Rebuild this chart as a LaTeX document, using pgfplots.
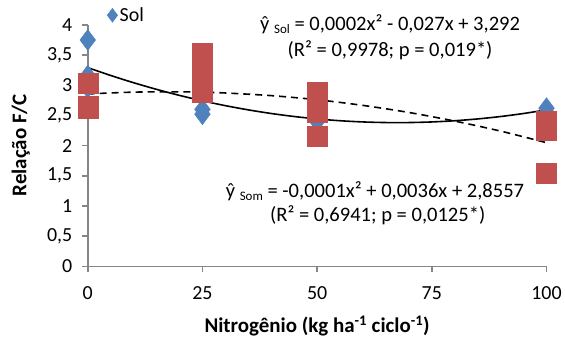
\documentclass[border=0pt]{standalone}
\usepackage{pgfplots}
\pgfplotsset{compat=1.18}
\usepackage{fontspec}
\setmainfont{Carlito}
\definecolor{solblue}{RGB}{79,129,189}
\definecolor{somred}{RGB}{192,80,77}
\definecolor{axgray}{RGB}{134,134,134}
\newcommand{\eqfont}{\fontsize{20}{24}\selectfont}
\newcommand{\eqbig}{\fontsize{20.6}{24}\selectfont}
\newcommand{\labfont}{\fontsize{21}{25}\selectfont}
\newcommand{\subs}[1]{\raisebox{-3pt}{\fontsize{13}{14}\selectfont #1}}
\begin{document}
\begin{tikzpicture}
\begin{axis}[
  x=4.6pt, y=60.5pt,
  xmin=0, xmax=100, ymin=0, ymax=4,
  axis lines=left,
  axis line style={-, draw=axgray, line width=1.5pt},
  xtick={0,25,50,75,100},
  ytick={0,0.5,1,1.5,2,2.5,3,3.5,4},
  tick align=outside,
  major tick length=6pt,
  tick style={axgray, line width=1.5pt},
  /pgf/number format/use comma,
  /pgf/number format/assume math mode=true,
  tick label style={font=\eqfont, text=black},
  xticklabel style={yshift=-11pt},
  yticklabel style={xshift=-6pt},
  clip=false,
  legend style={at={(axis cs:4.2,4.16)}, anchor=west, draw=none, fill=none, inner sep=0pt, font=\eqfont},
  legend cell align=left,
]
% Sol (blue diamonds)
\addplot[only marks, mark=diamond*, mark size=10.5pt, mark options={fill=solblue, draw=solblue},
  legend image code/.code={\path[mark=diamond*, mark size=7pt, mark options={fill=solblue, draw=solblue}] plot coordinates {(0.15cm,0cm)};}]
coordinates {(0,3.75) (0,3.16) (0,2.96) (25,3.1) (25,2.6) (25,2.52) (50,2.5) (50,2.4) (100,2.62) (100,2.55)};
\addlegendentry{Sol}
% Som (red squares)
\addplot[only marks, mark=square*, mark size=10pt, mark options={fill=somred, draw=somred}, forget plot]
coordinates {(0,3.03) (0,2.65) (0,2.62) (25,3.54) (25,3.2) (25,2.88) (50,2.89) (50,2.56) (50,2.15) (100,2.41) (100,2.25) (100,1.54)};
% trend Sol
\addplot[black, line width=1.6pt, smooth, forget plot] coordinates {
(0,3.292) (5,3.162) (10,3.042) (15,2.932) (20,2.832) (25,2.742) (30,2.662) (35,2.592) (40,2.532) (45,2.482) (50,2.442) (55,2.412) (60,2.392) (65,2.382) (70,2.382) (75,2.392) (80,2.412) (85,2.442) (90,2.482) (95,2.532) (100,2.592)};
% trend Som
\addplot[black, line width=1.6pt, dash pattern=on 7pt off 5pt, smooth, forget plot] coordinates {
(0,2.856) (10,2.886) (20,2.891) (25,2.885) (30,2.872) (40,2.828) (50,2.760) (60,2.666) (70,2.549) (80,2.406) (90,2.240) (100,2.048)};
% equations
\node[anchor=base, font=\eqbig] at (axis cs:65.9,3.90) {ŷ \subs{Sol} = 0,0002x² - 0,027x + 3,292};
\node[anchor=base, font=\eqbig] at (axis cs:65.9,3.48) {(R² = 0,9978; p = 0,019*)};
\node[anchor=base, font=\eqbig] at (axis cs:62.6,1.14) {ŷ \subs{Som} = -0,0001x² + 0,0036x + 2,8557};
\node[anchor=base, font=\eqbig] at (axis cs:63.2,0.74) {(R² = 0,6941; p = 0,0125*)};
% axis labels
\node[rotate=90, font=\labfont\bfseries] at (axis cs:-14.6,2) {Relação F/C};
\node[font=\labfont\bfseries] at (axis cs:50,-0.99) {Nitrogênio (kg ha\textsuperscript{-1} ciclo\textsuperscript{-1})};
% bounding box
\path (axis cs:-19.13,4.413) rectangle (axis cs:103.7,-1.174);
\end{axis}
\end{tikzpicture}
\end{document}
